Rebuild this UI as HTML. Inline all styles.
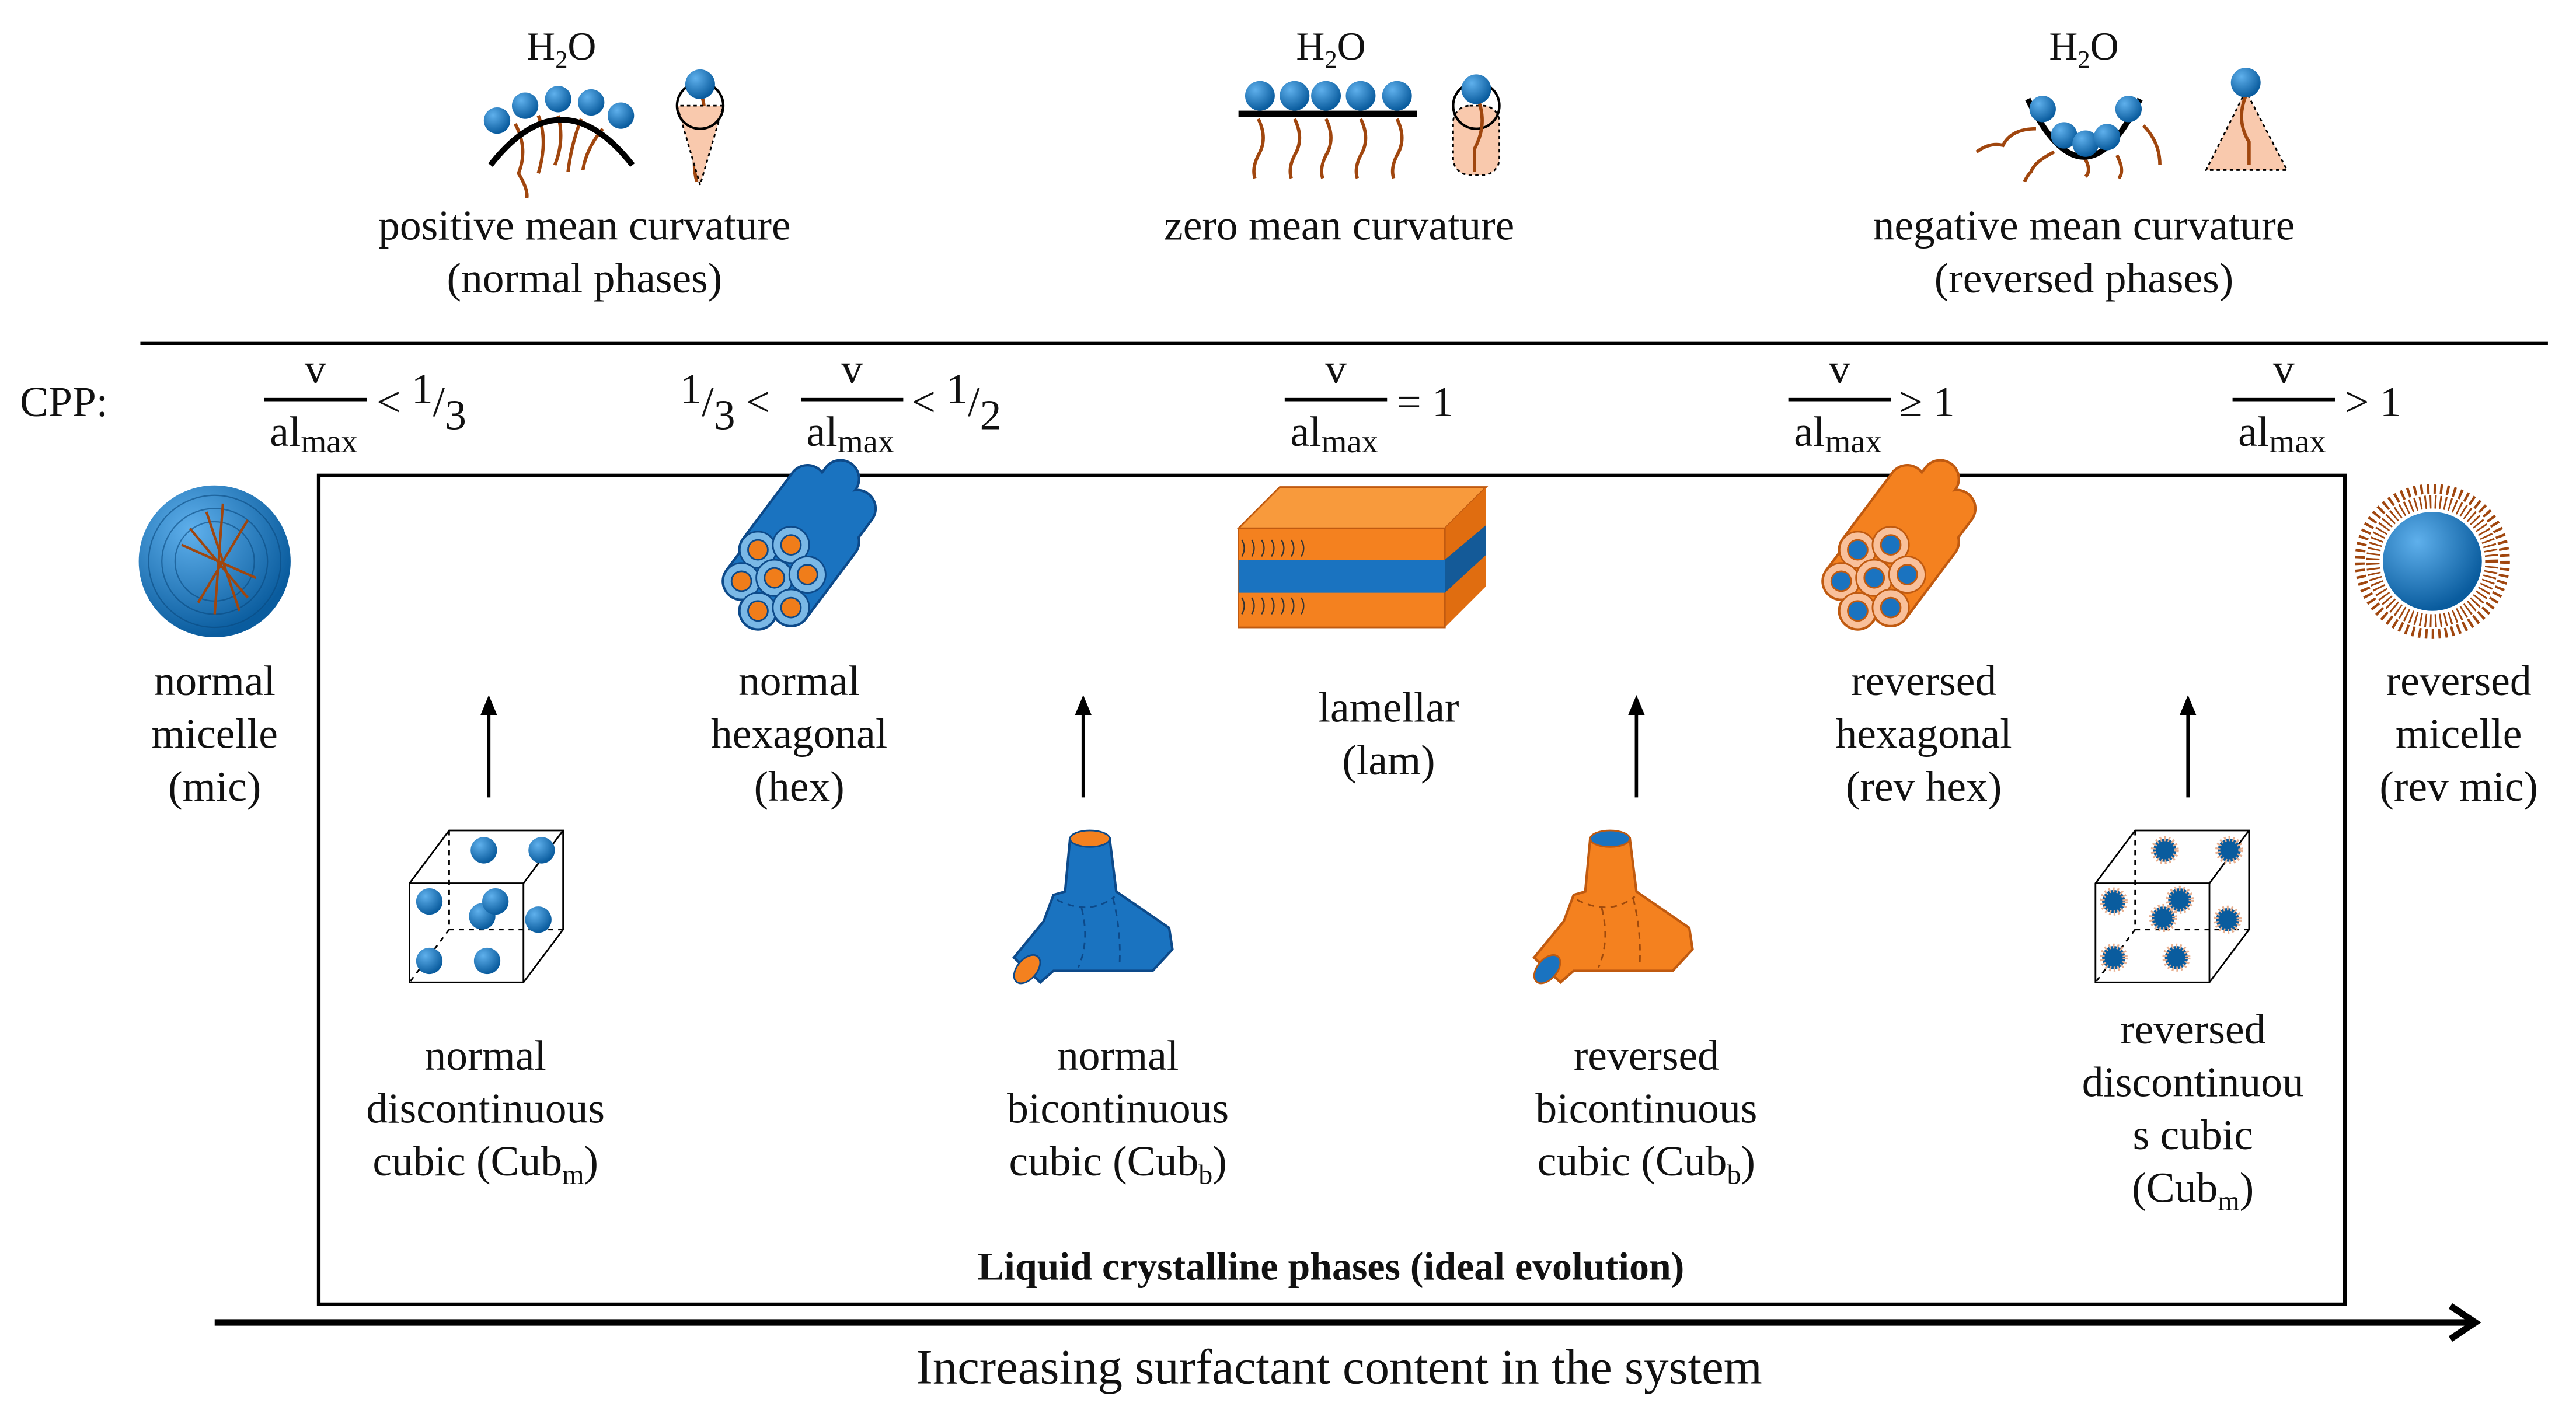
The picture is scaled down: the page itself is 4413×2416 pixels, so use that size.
<!DOCTYPE html>
<html><head><meta charset="utf-8"><style>
html,body{margin:0;padding:0;background:#fff;}
svg{display:block;}
text{font-family:"Liberation Serif",serif;fill:#111;}
</style></head><body>
<svg width="4413" height="2416" viewBox="0 0 1560 854" xmlns="http://www.w3.org/2000/svg">
<defs>
<radialGradient id="bl" cx="35%" cy="30%" r="70%"><stop offset="0" stop-color="#5fb0ec"/><stop offset="1" stop-color="#0a5c9e"/></radialGradient>
</defs>
<g font-size="24" text-anchor="middle">
<text x="340" y="36">H<tspan font-size="15" dy="5">2</tspan><tspan dy="-5">O</tspan></text>
<text x="806" y="36">H<tspan font-size="15" dy="5">2</tspan><tspan dy="-5">O</tspan></text>
<text x="1262" y="36">H<tspan font-size="15" dy="5">2</tspan><tspan dy="-5">O</tspan></text>
</g>
<!-- positive curvature -->
<g stroke="#a0460e" stroke-width="2" fill="none">
<path d="M312,75 q8,15 2,30 q6,10 5,15"/><path d="M326,70 q6,15 0,35"/><path d="M338,70 q4,15 -2,30"/><path d="M352,72 q-6,15 -8,32"/><path d="M365,78 q-10,12 -12,25"/>
<path d="M424,55 q6,15 -2,30 q-3,15 0,25"/>
</g>
<path d="M297,100 Q340,45 383,100" stroke="#000" stroke-width="3.5" fill="none"/>
<g fill="url(#bl)"><circle cx="301" cy="73" r="8"/><circle cx="318" cy="64" r="8"/><circle cx="338" cy="60" r="8"/><circle cx="358" cy="62" r="8"/><circle cx="376" cy="70" r="8"/></g>
<path d="M410,64 L424,112 L438,64 Z" fill="#f9c9ad" stroke="#000" stroke-width="1" stroke-dasharray="2,2"/>
<circle cx="424" cy="64" r="14" fill="none" stroke="#000" stroke-width="1.5"/>
<circle cx="424" cy="51" r="9" fill="url(#bl)"/>
<!-- zero -->
<rect x="750" y="67" width="108" height="4" fill="#000"/>
<g stroke="#a0460e" stroke-width="2" fill="none"><path d="M762,72 q6,12 0,22 q-4,8 -2,14"/><path d="M784,72 q6,12 0,22 q-4,8 -2,14"/><path d="M803,72 q6,12 0,22 q-4,8 -2,14"/><path d="M824,72 q6,12 0,22 q-4,8 -2,14"/><path d="M846,72 q6,12 0,22 q-4,8 -2,14"/></g>
<g fill="url(#bl)"><circle cx="763" cy="58" r="9"/><circle cx="784" cy="58" r="9"/><circle cx="803" cy="58" r="9"/><circle cx="824" cy="58" r="9"/><circle cx="846" cy="58" r="9"/></g>
<rect x="880" y="64" width="28" height="42" rx="10" fill="#f9c9ad" stroke="#000" stroke-width="1" stroke-dasharray="2,2"/>
<circle cx="894" cy="64" r="14" fill="none" stroke="#000" stroke-width="1.5"/>
<path d="M895,60 q6,15 -2,30 v14" stroke="#a0460e" stroke-width="2" fill="none"/>
<circle cx="894" cy="54" r="9" fill="url(#bl)"/>
<!-- negative -->
<g stroke="#a0460e" stroke-width="2" fill="none"><path d="M1233,78 q-15,0 -20,10 q-8,-2 -16,4"/><path d="M1244,92 q-12,6 -14,12 q-2,2 -4,6"/><path d="M1262,95 q5,8 1,12"/><path d="M1282,94 q5,10 1,14"/><path d="M1298,76 q10,10 10,24"/></g>
<path d="M1228,60 Q1262,130 1296,60" stroke="#000" stroke-width="3.5" fill="none"/>
<g fill="url(#bl)"><circle cx="1237" cy="66" r="8"/><circle cx="1250" cy="82" r="8"/><circle cx="1263" cy="87" r="8"/><circle cx="1276" cy="83" r="8"/><circle cx="1289" cy="66" r="8"/></g>
<path d="M1360,55 L1336,103 L1385,103 Z" fill="#f9c9ad" stroke="#000" stroke-width="1" stroke-dasharray="2,2"/>
<path d="M1360,58 q-6,15 2,28 v14" stroke="#a0460e" stroke-width="2" fill="none"/>
<circle cx="1360" cy="50" r="9" fill="url(#bl)"/>
<g font-size="26" text-anchor="middle">
<text x="354" y="145">positive mean curvature</text><text x="354" y="177">(normal phases)</text>
<text x="811" y="145">zero mean curvature</text>
<text x="1262" y="145">negative mean curvature</text><text x="1262" y="177">(reversed phases)</text>
</g>
<rect x="85" y="207" width="1458" height="2" fill="#000"/>
<text x="12" y="252" font-size="26">CPP:</text>
<g font-size="26">
<g text-anchor="middle"><text x="191" y="232">v</text><text x="190" y="270">al<tspan font-size="20" dy="4">max</tspan></text></g><rect x="160" y="241" width="62" height="2" fill="#000"/><text x="228" y="252">&lt; <tspan dy="-8">1</tspan><tspan dy="8">/</tspan><tspan dy="8">3</tspan></text>
<text x="412" y="252"><tspan dy="-8">1</tspan><tspan dy="8">/</tspan><tspan dy="8">3</tspan><tspan dy="-8"> &lt;</tspan></text>
<g text-anchor="middle"><text x="516" y="232">v</text><text x="515" y="270">al<tspan font-size="20" dy="4">max</tspan></text></g><rect x="485" y="241" width="62" height="2" fill="#000"/><text x="552" y="252">&lt; <tspan dy="-8">1</tspan><tspan dy="8">/</tspan><tspan dy="8">2</tspan></text>
<g text-anchor="middle"><text x="809" y="232">v</text><text x="808" y="270">al<tspan font-size="20" dy="4">max</tspan></text></g><rect x="778" y="241" width="62" height="2" fill="#000"/><text x="846" y="252">= 1</text>
<g text-anchor="middle"><text x="1114" y="232">v</text><text x="1113" y="270">al<tspan font-size="20" dy="4">max</tspan></text></g><rect x="1083" y="241" width="62" height="2" fill="#000"/><text x="1150" y="252">≥ 1</text>
<g text-anchor="middle"><text x="1383" y="232">v</text><text x="1382" y="270">al<tspan font-size="20" dy="4">max</tspan></text></g><rect x="1352" y="241" width="62" height="2" fill="#000"/><text x="1420" y="252">&gt; 1</text>
</g>
<rect x="193" y="288" width="1227" height="502" fill="none" stroke="#000" stroke-width="2.2"/>
<!-- micelle -->
<circle cx="130" cy="340" r="46" fill="url(#bl)"/>
<g stroke="#0a4a80" stroke-width="0.8" fill="none" opacity="0.6"><circle cx="130" cy="340" r="40"/><circle cx="130" cy="340" r="32"/><circle cx="130" cy="340" r="24"/></g>
<g stroke="#a0460e" stroke-width="1.5"><path d="M125,310 L145,370 M150,315 L120,365 M110,330 L155,350 M135,305 L130,372 M115,320 L150,362"/></g>
<!-- normal hex -->
<g transform="translate(484,338)">
<g stroke-linecap="round"><g stroke="#0d4a8a" stroke-width="24"><path d="M-25,-5 l30,-40 M-5,-8 l30,-40 M-35,14 l30,-40 M-15,12 l30,-40 M5,10 l30,-40 M-25,32 l30,-40 M-5,30 l30,-40"/></g>
<g stroke="#1a73c0" stroke-width="21"><path d="M-25,-5 l30,-40 M-5,-8 l30,-40 M-35,14 l30,-40 M-15,12 l30,-40 M5,10 l30,-40 M-25,32 l30,-40 M-5,30 l30,-40"/></g></g>
<g stroke="#0d4a8a" stroke-width="1"><g fill="#7ab8e6"><circle cx="-25" cy="-5" r="11"/><circle cx="-5" cy="-8" r="11"/><circle cx="-35" cy="14" r="11"/><circle cx="-15" cy="12" r="11"/><circle cx="5" cy="10" r="11"/><circle cx="-25" cy="32" r="11"/><circle cx="-5" cy="30" r="11"/></g>
<g fill="#f07d1a"><circle cx="-25" cy="-5" r="6"/><circle cx="-5" cy="-8" r="6"/><circle cx="-35" cy="14" r="6"/><circle cx="-15" cy="12" r="6"/><circle cx="5" cy="10" r="6"/><circle cx="-25" cy="32" r="6"/><circle cx="-5" cy="30" r="6"/></g></g>
</g>
<!-- lamellar -->
<g>
<path d="M750,320 L775,295 L900,295 L875,320 Z" fill="#f89a3c" stroke="#c05a10" stroke-width="1"/>
<path d="M875,320 L900,295 L900,355 L875,380 Z" fill="#e06d10"/>
<rect x="750" y="320" width="125" height="60" fill="#f4811f" stroke="#c05a10" stroke-width="1"/>
<rect x="750" y="339" width="125" height="20" fill="#1a73c0"/>
<path d="M875,339 L900,318 L900,336 L875,359 Z" fill="#145a98"/>
<g stroke="#333" stroke-width="0.8" fill="none"><path d="M752,327 q3,5 0,10 M758,327 q3,5 0,10 M764,327 q3,5 0,10 M770,327 q3,5 0,10 M776,327 q3,5 0,10 M782,327 q3,5 0,10 M788,327 q3,5 0,10 M752,362 q3,5 0,10 M758,362 q3,5 0,10 M764,362 q3,5 0,10 M770,362 q3,5 0,10 M776,362 q3,5 0,10 M782,362 q3,5 0,10 M788,362 q3,5 0,10"/></g>
</g>
<!-- rev hex -->
<g transform="translate(1150,338)">
<g stroke-linecap="round"><g stroke="#c05a10" stroke-width="24"><path d="M-25,-5 l30,-40 M-5,-8 l30,-40 M-35,14 l30,-40 M-15,12 l30,-40 M5,10 l30,-40 M-25,32 l30,-40 M-5,30 l30,-40"/></g>
<g stroke="#f4811f" stroke-width="21"><path d="M-25,-5 l30,-40 M-5,-8 l30,-40 M-35,14 l30,-40 M-15,12 l30,-40 M5,10 l30,-40 M-25,32 l30,-40 M-5,30 l30,-40"/></g></g>
<g stroke="#c05a10" stroke-width="1"><g fill="#f9c09a"><circle cx="-25" cy="-5" r="11"/><circle cx="-5" cy="-8" r="11"/><circle cx="-35" cy="14" r="11"/><circle cx="-15" cy="12" r="11"/><circle cx="5" cy="10" r="11"/><circle cx="-25" cy="32" r="11"/><circle cx="-5" cy="30" r="11"/></g>
<g fill="#1a73c0"><circle cx="-25" cy="-5" r="6"/><circle cx="-5" cy="-8" r="6"/><circle cx="-35" cy="14" r="6"/><circle cx="-15" cy="12" r="6"/><circle cx="5" cy="10" r="6"/><circle cx="-25" cy="32" r="6"/><circle cx="-5" cy="30" r="6"/></g></g>
</g>
<!-- rev micelle -->
<circle cx="1473" cy="340" r="44" fill="none" stroke="#a0460e" stroke-width="6" stroke-dasharray="1.5,2.5"/>
<circle cx="1473" cy="340" r="36" fill="none" stroke="#a0460e" stroke-width="8" stroke-dasharray="1,2"/>
<circle cx="1473" cy="340" r="30" fill="url(#bl)"/>
<!-- labels mid -->
<g font-size="26" text-anchor="middle">
<text x="130" y="421">normal</text><text x="130" y="453">micelle</text><text x="130" y="485">(mic)</text>
<text x="484" y="421">normal</text><text x="484" y="453">hexagonal</text><text x="484" y="485">(hex)</text>
<text x="841" y="437">lamellar</text><text x="841" y="469">(lam)</text>
<text x="1165" y="421">reversed</text><text x="1165" y="453">hexagonal</text><text x="1165" y="485">(rev hex)</text>
<text x="1489" y="421">reversed</text><text x="1489" y="453">micelle</text><text x="1489" y="485">(rev mic)</text>
</g>
<g stroke="#000" stroke-width="2"><line x1="296" y1="483" x2="296" y2="430"/><line x1="656" y1="483" x2="656" y2="430"/><line x1="991" y1="483" x2="991" y2="430"/><line x1="1325" y1="483" x2="1325" y2="430"/></g>
<g fill="#000"><path d="M291,433 L296,421 L301,433 Z"/><path d="M651,433 L656,421 L661,433 Z"/><path d="M986,433 L991,421 L996,433 Z"/><path d="M1320,433 L1325,421 L1330,433 Z"/></g>
<!-- cubes -->
<g fill="none" stroke="#000" stroke-width="1">
<path d="M248,535 L272,503 L341,503 L341,563 L317,595 L248,595 Z M248,535 L317,535 L341,503 M317,535 L317,595"/>
<path d="M272,503 L272,563 L341,563 M272,563 L248,595" stroke-dasharray="3,3"/>
<path d="M1269,535 L1293,503 L1362,503 L1362,563 L1338,595 L1269,595 Z M1269,535 L1338,535 L1362,503 M1338,535 L1338,595"/>
<path d="M1293,503 L1293,563 L1362,563 M1293,563 L1269,595" stroke-dasharray="3,3"/>
</g>
<g fill="url(#bl)"><circle cx="293" cy="515" r="8"/><circle cx="328" cy="515" r="8"/><circle cx="260" cy="546" r="8"/><circle cx="292" cy="555" r="8"/><circle cx="300" cy="546" r="8"/><circle cx="326" cy="557" r="8"/><circle cx="260" cy="582" r="8"/><circle cx="295" cy="582" r="8"/></g>
<g fill="#0a5c9e" stroke="#e8b090" stroke-width="3" stroke-dasharray="1,1.5"><circle cx="1311" cy="515" r="7"/><circle cx="1350" cy="515" r="7"/><circle cx="1280" cy="546" r="7"/><circle cx="1310" cy="556" r="7"/><circle cx="1320" cy="545" r="7"/><circle cx="1349" cy="557" r="7"/><circle cx="1280" cy="580" r="7"/><circle cx="1318" cy="580" r="7"/></g>
<!-- bicontinuous -->
<g transform="translate(660,550)">
<path d="M-12,-42 L12,-42 L16,-10 L48,12 L50,25 L38,38 L-22,38 L-30,45 L-46,30 L-28,8 L-22,-8 L-15,-10 Z" fill="#1a73c0" stroke="#0d4a8a" stroke-width="1.5"/>
<ellipse cx="0" cy="-42" rx="12" ry="5" fill="#f4811f" stroke="#0d4a8a"/>
<ellipse cx="-38" cy="37" rx="6" ry="10" transform="rotate(40,-38,37)" fill="#f4811f" stroke="#0d4a8a"/>
<path d="M-20,-5 q20,10 35,-2 M-5,0 q5,20 -2,36 M14,-6 q5,20 4,40" stroke="#0d4a8a" stroke-dasharray="4,3" fill="none"/>
</g>
<g transform="translate(975,550)">
<path d="M-12,-42 L12,-42 L16,-10 L48,12 L50,25 L38,38 L-22,38 L-30,45 L-46,30 L-28,8 L-22,-8 L-15,-10 Z" fill="#f4811f" stroke="#c05a10" stroke-width="1.5"/>
<ellipse cx="0" cy="-42" rx="12" ry="5" fill="#1a73c0" stroke="#c05a10"/>
<ellipse cx="-38" cy="37" rx="6" ry="10" transform="rotate(40,-38,37)" fill="#1a73c0" stroke="#c05a10"/>
<path d="M-20,-5 q20,10 35,-2 M-5,0 q5,20 -2,36 M14,-6 q5,20 4,40" stroke="#a04a0c" stroke-dasharray="4,3" fill="none"/>
</g>
<g font-size="26" text-anchor="middle">
<text x="294" y="648">normal</text><text x="294" y="680">discontinuous</text><text x="294" y="712">cubic (Cub<tspan font-size="17" dy="5">m</tspan><tspan dy="-5">)</tspan></text>
<text x="677" y="648">normal</text><text x="677" y="680">bicontinuous</text><text x="677" y="712">cubic (Cub<tspan font-size="17" dy="5">b</tspan><tspan dy="-5">)</tspan></text>
<text x="997" y="648">reversed</text><text x="997" y="680">bicontinuous</text><text x="997" y="712">cubic (Cub<tspan font-size="17" dy="5">b</tspan><tspan dy="-5">)</tspan></text>
<text x="1328" y="632">reversed</text><text x="1328" y="664">discontinuou</text><text x="1328" y="696">s cubic</text><text x="1328" y="728">(Cub<tspan font-size="17" dy="5">m</tspan><tspan dy="-5">)</tspan></text>
<text x="806" y="775" font-size="24" font-weight="bold">Liquid crystalline phases (ideal evolution)</text>
<text x="811" y="838" font-size="30">Increasing surfactant content in the system</text>
</g>
<line x1="130" y1="801" x2="1495" y2="801" stroke="#000" stroke-width="4"/>
<path d="M1484,791 L1499,801 L1484,811" stroke="#000" stroke-width="4" fill="none"/>
</svg>
</body></html>
